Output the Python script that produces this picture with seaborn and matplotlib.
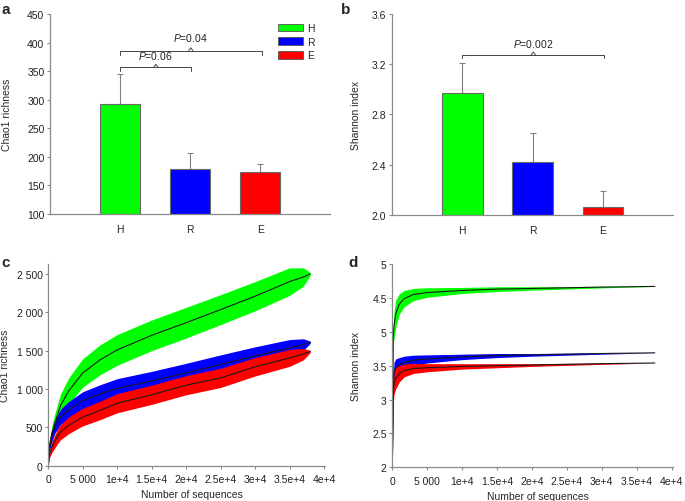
import matplotlib
matplotlib.use("Agg")
import matplotlib.pyplot as plt
import numpy
import pandas
import seaborn as sns
from matplotlib.patches import Patch

OUTPUT_FILE_NAME = "out.png"

# bar panels (a, b)
GROUPS = ["H", "R", "E"]
CHAO1_MEAN = [292, 179, 173]
CHAO1_ERR = [53, 27, 15]
SHANNON_MEAN = [2.97, 2.42, 2.06]
SHANNON_ERR = [0.24, 0.23, 0.13]
COLORS = {"H": "#00ff00", "R": "#0000ff", "E": "#ff0000"}

# rarefaction curves, Chao1 (c)
SEQ_C = [0, 120, 250, 500, 900, 1400, 1800, 3000, 5000, 7500, 10000, 15000, 20000, 25000, 30000, 35000, 37000, 38000]
CHAO1_CURVE = {
    "H": [0, 220, 300, 420, 540, 680, 790, 980, 1210, 1380, 1510, 1700, 1865, 2035, 2210, 2400, 2460, 2500],
    "R": [0, 210, 280, 380, 500, 580, 640, 730, 850, 935, 1010, 1105, 1210, 1320, 1430, 1535, 1580, 1610],
    "E": [0, 120, 170, 240, 310, 390, 440, 530, 635, 720, 815, 925, 1050, 1145, 1290, 1405, 1455, 1490],
}
CHAO1_BAND = {
    "H": [0, 40, 60, 90, 120, 140, 150, 170, 185, 195, 200, 200, 200, 195, 190, 180, 120, 20],
    "R": [0, 35, 50, 70, 85, 95, 100, 110, 115, 120, 125, 125, 125, 125, 120, 110, 75, 15],
    "E": [0, 35, 50, 70, 85, 95, 100, 110, 115, 120, 125, 125, 125, 125, 120, 110, 75, 15],
}

# rarefaction curves, Shannon (d)
SEQ_D = [0, 150, 250, 500, 1000, 1700, 3000, 5000, 10000, 15000, 20000, 30000, 37600]
SHANNON_CURVE = {
    "H": [2.0, 3.95, 4.10, 4.27, 4.41, 4.49, 4.55, 4.58, 4.61, 4.63, 4.64, 4.66, 4.67],
    "R": [2.0, 3.30, 3.42, 3.47, 3.51, 3.55, 3.58, 3.60, 3.63, 3.65, 3.66, 3.68, 3.69],
    "E": [2.0, 3.10, 3.25, 3.32, 3.38, 3.43, 3.46, 3.47, 3.49, 3.50, 3.51, 3.53, 3.54],
}
SHANNON_BAND = {
    "H": [0, 0.12, 0.20, 0.20, 0.15, 0.12, 0.09, 0.07, 0.045, 0.035, 0.025, 0.012, 0],
    "R": [0, 0.10, 0.13, 0.13, 0.11, 0.09, 0.075, 0.06, 0.04, 0.03, 0.02, 0.01, 0],
    "E": [0, 0.14, 0.17, 0.16, 0.12, 0.095, 0.075, 0.06, 0.04, 0.03, 0.02, 0.01, 0],
}

SEQ_TICKS = [0, 5000, 10000, 15000, 20000, 25000, 30000, 35000, 40000]
SEQ_TICK_LABELS = ["0", "5 000", "1e+4", "1.5e+4", "2e+4", "2.5e+4", "3e+4", "3.5e+4", "4e+4"]
CHAO1_TICKS = [0, 500, 1000, 1500, 2000, 2500]
CHAO1_TICK_LABELS = ["0", "500", "1 000", "1 500", "2 000", "2 500"]
SHANNON_TICKS = [2, 2.5, 3, 3.5, 4, 4.5, 5]
SHANNON_TICK_LABELS = ["2", "2.5", "3", "3.5", "5", "4.5", "5"]

SPINE = "#8a8a8a"
FS = 7.5

sns.set_theme(style="ticks")
plt.rcParams["font.family"] = ["Liberation Sans", "DejaVu Sans"]
plt.rcParams["mathtext.fontset"] = "custom"
plt.rcParams["mathtext.it"] = "Liberation Sans:italic"
plt.rcParams["mathtext.rm"] = "Liberation Sans"


def style_axes(ax):
    sns.despine(ax=ax)
    for side in ["left", "bottom"]:
        ax.spines[side].set_color(SPINE)
        ax.spines[side].set_linewidth(0.9)
    ax.tick_params(axis="both", direction="out", length=2.5, width=0.8,
                   color=SPINE, labelsize=FS, labelcolor="#222222", pad=1.5)


def bar_panel(ax, values, errors, ylim, yticks, ytick_labels, ylabel):
    sns.barplot(x=GROUPS, y=values, hue=GROUPS, palette=COLORS, legend=False,
                saturation=1, width=0.58, edgecolor="#6a6a6a", linewidth=0.8, ax=ax)
    ax.errorbar(range(len(GROUPS)), values, yerr=[numpy.zeros(len(errors)), errors],
                fmt="none", ecolor="#808080", elinewidth=0.8, capsize=2.5,
                capthick=0.8, zorder=0.9)
    ax.set_xlim(-1, 3)
    ax.set_ylim(*ylim)
    ax.set_yticks(yticks)
    ax.set_yticklabels(ytick_labels)
    style_axes(ax)
    ax.tick_params(axis="x", length=0, pad=7)
    ax.set_ylabel(ylabel, fontsize=FS)


def bracket(ax, x0, x1, y, tip, label, label_y):
    xm = (x0 + x1) / 2
    ax.plot([x0, x0, x1, x1], [y - tip, y, y, y - tip], color="#444444", lw=0.7, clip_on=False)
    ax.plot([xm - 0.03, xm, xm + 0.03], [y, y + tip * 0.7, y], color="#444444", lw=0.7, clip_on=False)
    ax.text(xm, label_y, "$P$=" + label, ha="center", va="baseline", fontsize=FS, color="#222222")


def curve_panel(ax, seq, curves, bands, ylim, yticks, ytick_labels, ylabel):
    rows = []
    for g in ["H", "R", "E"]:
        mean = numpy.array(curves[g])
        half = numpy.array(bands[g])
        ax.fill_between(seq, mean - half, mean + half, color=COLORS[g], lw=0)
        for s, v in zip(seq, mean):
            rows.append({"seq": s, "value": v, "group": g})
    df = pandas.DataFrame(rows)
    sns.lineplot(data=df, x="seq", y="value", units="group", estimator=None,
                 color="#1a1a1a", lw=0.8, ax=ax)
    ax.set_xlim(0, 40200)
    ax.set_ylim(*ylim)
    ax.set_xticks(SEQ_TICKS)
    ax.set_xticklabels(SEQ_TICK_LABELS)
    ax.set_yticks(yticks)
    ax.set_yticklabels(ytick_labels)
    style_axes(ax)
    ax.tick_params(axis="x", pad=3.5)
    ax.set_ylabel(ylabel, fontsize=FS)
    ax.set_xlabel("Number of sequences", fontsize=FS)
    ax.xaxis.set_label_coords(0.518, -0.115)


fig = plt.figure(figsize=(6.85, 5.02), dpi=100)
ax_a = fig.add_axes([0.073, 0.572, 0.409, 0.398])
ax_b = fig.add_axes([0.572, 0.570, 0.411, 0.400])
ax_c = fig.add_axes([0.0705, 0.0703, 0.4045, 0.4018])
ax_d = fig.add_axes([0.5727, 0.067, 0.4098, 0.405])

# a: Chao1 bars
bar_panel(ax_a, CHAO1_MEAN, CHAO1_ERR, (100, 450), range(100, 451, 50),
          [str(v) for v in range(100, 451, 50)], "Chao1 richness")
ax_a.yaxis.set_label_coords(-0.135, 0.5)
bracket(ax_a, 0, 2.02, 386, 7, "0.04", 403)
bracket(ax_a, 0, 1.02, 357, 7, "0.06", 372)
handles = [Patch(facecolor=COLORS[g], edgecolor="#555555", lw=0.6, label=g) for g in GROUPS]
ax_a.legend(handles=handles, loc="upper left", bbox_to_anchor=(0.814, 0.955),
            frameon=False, fontsize=FS, handlelength=2.4, handleheight=0.75,
            handletextpad=0.4, labelspacing=0.35, borderpad=0, borderaxespad=0)

# b: Shannon bars
bar_panel(ax_b, SHANNON_MEAN, SHANNON_ERR, (2.0, 3.6), [2.0, 2.4, 2.8, 3.2, 3.6],
          ["2.0", "2.4", "2.8", "3.2", "3.6"], "Shannon index")
ax_b.yaxis.set_label_coords(-0.11, 0.5)
bracket(ax_b, 0, 2.02, 3.276, 0.03, "0.002", 3.34)

# c: Chao1 rarefaction
curve_panel(ax_c, SEQ_C, CHAO1_CURVE, CHAO1_BAND, (0, 2630), CHAO1_TICKS,
            CHAO1_TICK_LABELS, "Chao1 richness")
ax_c.yaxis.set_label_coords(-0.14, 0.5)

# d: Shannon rarefaction
curve_panel(ax_d, SEQ_D, SHANNON_CURVE, SHANNON_BAND, (2, 5), SHANNON_TICKS,
            SHANNON_TICK_LABELS, "Shannon index")
ax_d.yaxis.set_label_coords(-0.112, 0.5)

for x, y, letter in [(0.002, 0.995, "a"), (0.497, 0.995, "b"), (0.002, 0.49, "c"), (0.508, 0.49, "d")]:
    fig.text(x, y, letter, ha="left", va="top", fontsize=11, fontweight="bold")

fig.savefig(OUTPUT_FILE_NAME, dpi=100)
